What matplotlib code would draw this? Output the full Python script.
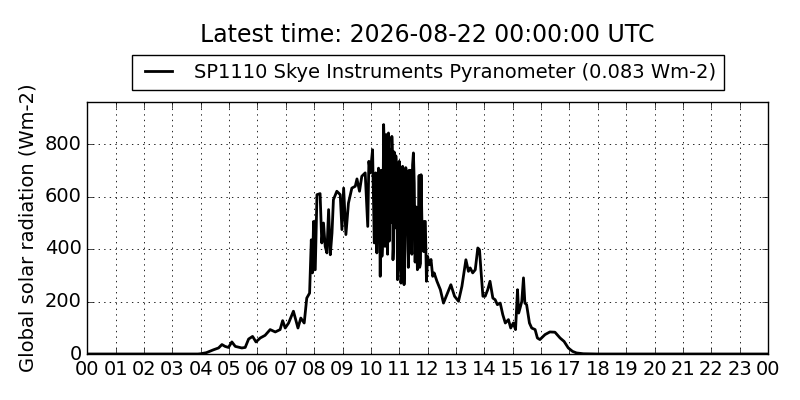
import matplotlib
matplotlib.use("Agg")
import matplotlib.pyplot as plt

plt.style.use("classic")

title = "Latest time: 2026-08-22 00:00:00 UTC"
series_label = "SP1110 Skye Instruments Pyranometer (0.083 Wm-2)"
y_label = "Global solar radiation (Wm-2)"
x_tick_labels = ["%02d" % (h % 24) for h in range(25)]
y_ticks = [0, 200, 400, 600, 800]

hours = [
    0.0, 1.0, 2.0, 3.0, 3.9, 4.0, 4.2, 4.45, 4.63, 4.75, 4.86, 4.98, 5.1, 5.22,
    5.45, 5.57, 5.69, 5.83, 5.95, 6.1, 6.27, 6.45, 6.63, 6.8, 6.89, 6.98,
    7.1, 7.27, 7.43, 7.53, 7.65, 7.74, 7.84, 7.9, 7.94, 7.98, 8.04, 8.1,
    8.21, 8.27, 8.33, 8.39, 8.45, 8.51, 8.57, 8.63, 8.68, 8.8, 8.92, 8.98,
    9.04, 9.12, 9.21, 9.33, 9.45, 9.51, 9.6, 9.68, 9.8, 9.89, 9.93, 9.98,
    10.06, 10.09, 10.12, 10.145, 10.17, 10.19, 10.21, 10.24, 10.27, 10.30,
    10.33, 10.36, 10.39, 10.42, 10.45, 10.475, 10.5, 10.52, 10.54, 10.565,
    10.59, 10.605, 10.62, 10.65, 10.68, 10.71, 10.74, 10.76, 10.78, 10.80,
    10.82, 10.85, 10.88, 10.91, 10.94, 10.97, 11.0, 11.03, 11.06, 11.09,
    11.12, 11.145, 11.17, 11.20, 11.23, 11.26, 11.29, 11.32, 11.35, 11.37,
    11.39, 11.42, 11.445, 11.47, 11.5, 11.53, 11.56, 11.60, 11.64, 11.67,
    11.7, 11.72, 11.75, 11.77, 11.8, 11.86, 11.88, 11.92, 11.96, 12.0,
    12.06, 12.12,
    12.18, 12.23, 12.33, 12.45, 12.56, 12.68, 12.82, 12.95, 13.09, 13.21,
    13.35, 13.44, 13.5, 13.59, 13.68, 13.77, 13.83, 13.88, 13.95, 14.03,
    14.12, 14.2, 14.3, 14.38, 14.46, 14.56, 14.65, 14.74, 14.85, 14.93,
    15.02, 15.1, 15.17, 15.21, 15.26, 15.32, 15.38, 15.43, 15.49, 15.59,
    15.67, 15.79, 15.87, 15.96, 16.14, 16.31, 16.49, 16.67, 16.81, 16.96,
    17.11, 17.25, 17.49, 18.0, 20.0, 22.0, 24.0,
]
radiation = [
    0, 0, 0, 0, 0, 1, 5, 16, 23, 36, 29, 25, 46, 29,
    23, 25, 57, 67, 46, 61, 71, 93, 84, 93, 127, 99,
    118, 163, 99, 137, 118, 213, 232, 435, 309, 505, 321, 607,
    611, 423, 499, 410, 385, 550, 378, 461, 588, 620, 607, 474,
    632, 455, 575, 632, 639, 667, 620, 677, 690, 486, 734, 690,
    778, 600, 423, 470, 690, 650, 385, 560, 708, 650,
    296, 700, 372, 450, 874, 780, 410, 420, 836, 760,
    380, 700, 842, 430, 780, 500, 829, 760, 359, 420,
    770, 480, 755, 700, 283, 350, 734, 650, 270, 330,
    715, 680, 264, 400, 710, 690, 550, 330, 700, 650,
    560, 700, 380, 720, 766, 650, 350, 560, 321, 400,
    680, 330, 345, 683, 500, 390, 505, 505, 277, 372,
    340, 360,
    296, 309, 277, 245, 194, 226, 264, 220, 201, 258,
    359, 315, 328, 309, 321, 404, 397, 320, 220, 220,
    245, 277, 213, 207, 188, 194, 150, 118, 131, 99,
    118, 93, 245, 156, 175, 200, 290, 194, 188, 118,
    99, 93, 61, 55, 74, 84, 83, 61, 48, 23,
    10, 4, 1, 0, 0, 0, 0,
]

fig = plt.figure(figsize=(8, 4), dpi=100, facecolor="white")
ax = fig.add_axes([0.109, 0.115, 0.851, 0.63])
ax.set_facecolor("white")
ax.plot(hours, radiation, color="black", linewidth=2, label=series_label)
ax.set_xlim(0, 24)
ax.set_ylim(0, 960)
ax.set_xticks(range(25))
ax.set_xticklabels(x_tick_labels, fontsize=14)
ax.set_yticks(y_ticks)
ax.tick_params(axis="y", labelsize=14)
ax.grid(True, color="black", linestyle=":", linewidth=0.6)
ax.set_ylabel(y_label, fontsize=14)
ax.legend(loc="lower center", bbox_to_anchor=(0.5, 1.048), fontsize=14,
          frameon=True, fancybox=False, borderaxespad=0, handlelength=2)
fig.text(0.534, 0.9125, title, fontsize=17, ha="center", va="center")
fig.savefig("out.png", dpi=100, facecolor="white")
